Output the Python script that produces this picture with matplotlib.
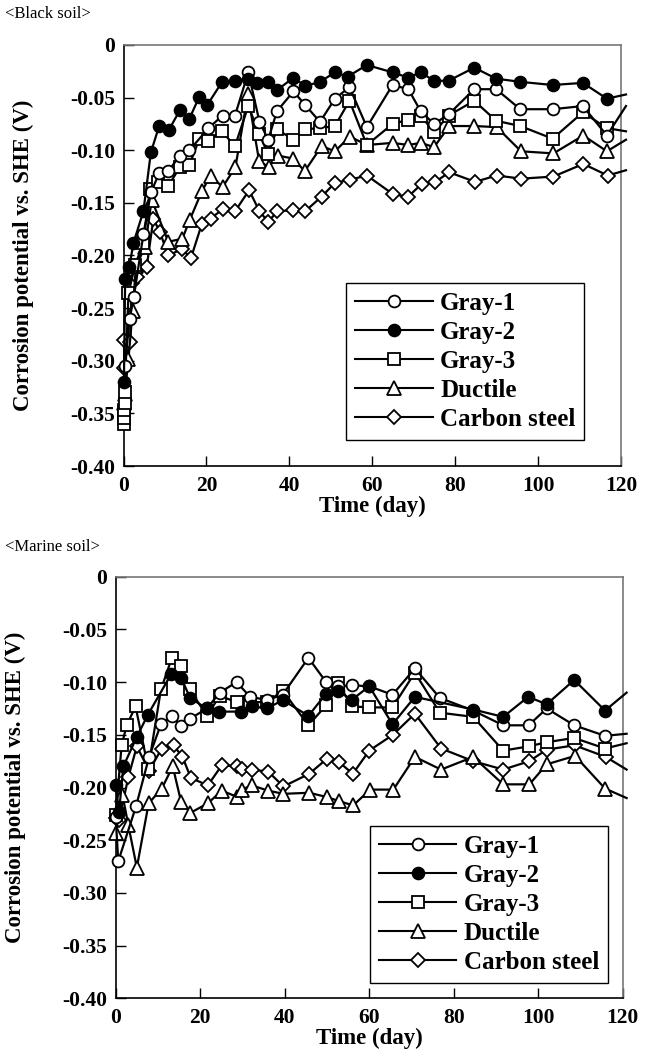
import matplotlib
matplotlib.use("Agg")
import matplotlib.pyplot as plt
from matplotlib.lines import Line2D

plt.rcParams['font.family'] = ['Liberation Serif', 'DejaVu Serif']

# ---------------- Black soil (top panel) ----------------
# last point of each series lies just beyond 120 days (line continues, no marker)
bs_g1_day = [0.3, 1.5, 2.5, 4.8, 6.6, 8.6, 10.8, 13.6, 15.9, 20.5, 23.9, 26.9, 30.1, 32.8, 34.9, 37.0,
             41.0, 43.8, 47.4, 51.0, 54.5, 58.7, 64.9, 68.7, 71.7, 74.9, 78.4, 84.6, 89.9, 95.7,
             103.5, 110.8, 116.6, 121.2]
bs_g1_val = [-0.305, -0.260, -0.239, -0.180, -0.140, -0.122, -0.120, -0.105, -0.100, -0.079, -0.067,
             -0.067, -0.026, -0.073, -0.090, -0.063, -0.044, -0.057, -0.073, -0.051, -0.040, -0.078,
             -0.038, -0.042, -0.063, -0.075, -0.066, -0.042, -0.042, -0.061, -0.061, -0.058, -0.086,
             -0.058]

bs_g2_day = [0.1, 0.4, 1.4, 2.4, 4.8, 6.6, 8.6, 10.9, 13.6, 15.9, 18.3, 20.2, 23.8, 26.9, 30.1, 32.1,
             34.9, 37.0, 41.0, 43.8, 47.4, 51.0, 54.1, 58.7, 64.9, 68.7, 71.7, 74.9, 78.4, 84.6,
             89.9, 95.7, 103.5, 110.8, 116.6, 121.2]
bs_g2_val = [-0.320, -0.222, -0.211, -0.188, -0.158, -0.102, -0.077, -0.081, -0.062, -0.070, -0.049,
             -0.057, -0.035, -0.034, -0.032, -0.036, -0.035, -0.043, -0.031, -0.039, -0.035, -0.026,
             -0.030, -0.019, -0.026, -0.031, -0.026, -0.034, -0.034, -0.0215, -0.032, -0.035,
             -0.038, -0.036, -0.051, -0.047]

bs_g3_day = [0.1, 0.15, 0.2, 0.25, 0.3, 1.2, 2.8, 4.8, 6.4, 8.4, 10.8, 13.6, 15.9, 18.3, 20.5, 23.7,
             26.9, 30.1, 32.8, 34.9, 37.0, 41.0, 43.8, 47.4, 51.0, 54.5, 58.7, 64.9, 68.7, 71.7,
             74.9, 78.4, 84.6, 89.9, 95.7, 103.5, 110.8, 116.6, 121.2]
bs_g3_val = [-0.360, -0.354, -0.347, -0.340, -0.330, -0.236, -0.209, -0.188, -0.137, -0.130, -0.134,
             -0.116, -0.114, -0.089, -0.091, -0.082, -0.096, -0.058, -0.085, -0.104, -0.080, -0.090,
             -0.080, -0.079, -0.077, -0.053, -0.095, -0.075, -0.071, -0.067, -0.083, -0.067, -0.053,
             -0.072, -0.077, -0.089, -0.064, -0.079, -0.082]

bs_du_day = [0.1, 0.3, 1.2, 2.2, 3.0, 5.2, 6.8, 10.8, 14.2, 16.0, 18.9, 21.0, 23.9, 27.0, 30.0, 32.7,
             35.0, 37.2, 41.0, 43.7, 47.8, 51.0, 54.6, 58.7, 64.9, 68.7, 71.7, 74.9, 78.6, 84.6,
             90.0, 95.9, 103.7, 110.9, 116.6, 121.2]
bs_du_val = [-0.340, -0.332, -0.298, -0.253, -0.210, -0.192, -0.147, -0.187, -0.184, -0.166, -0.139,
             -0.124, -0.135, -0.116, -0.047, -0.110, -0.116, -0.105, -0.108, -0.120, -0.096, -0.101,
             -0.087, -0.095, -0.093, -0.095, -0.093, -0.097, -0.077, -0.077, -0.078, -0.101, -0.103,
             -0.086, -0.101, -0.090]

bs_cs_day = [0.1, 0.2, 1.6, 2.0, 3.2, 5.6, 7.2, 8.8, 10.8, 14.0, 16.3, 18.9, 21.0, 23.9, 26.9, 30.3,
             32.8, 34.9, 37.1, 41.0, 43.8, 47.8, 51.0, 54.6, 58.7, 65.1, 68.7, 71.9, 75.2, 78.6,
             84.8, 90.0, 95.9, 103.7, 110.9, 116.8, 121.2]
bs_cs_val = [-0.280, -0.307, -0.282, -0.226, -0.220, -0.211, -0.165, -0.178, -0.200, -0.194, -0.202,
             -0.170, -0.165, -0.156, -0.158, -0.138, -0.158, -0.168, -0.158, -0.157, -0.158, -0.144,
             -0.131, -0.128, -0.124, -0.142, -0.144, -0.132, -0.130, -0.121, -0.130, -0.124, -0.127,
             -0.125, -0.113, -0.124, -0.119]

# ---------------- Marine soil (bottom panel) ----------------
ms_g1_day = [0.0, 0.6, 4.8, 7.9, 10.7, 13.4, 15.5, 17.5, 21.6, 24.6, 28.6, 31.8, 35.9, 39.5, 45.6,
             49.8, 52.7, 55.8, 60.0, 65.5, 70.8, 76.7, 84.6, 91.7, 97.7, 102.0, 108.5, 115.8, 120.9]
ms_g1_val = [-0.228, -0.270, -0.218, -0.171, -0.140, -0.132, -0.142, -0.135, -0.125, -0.110, -0.100,
             -0.114, -0.117, -0.112, -0.077, -0.100, -0.104, -0.103, -0.104, -0.112, -0.087, -0.115,
             -0.127, -0.141, -0.141, -0.125, -0.141, -0.151, -0.149]

ms_g2_day = [0.0, 0.8, 1.8, 5.0, 7.6, 13.2, 15.5, 17.6, 21.5, 24.5, 29.6, 32.2, 35.9, 39.5, 45.6,
             49.8, 52.7, 55.8, 60.0, 65.5, 70.8, 84.6, 91.7, 97.6, 102.0, 108.5, 115.8, 120.9]
ms_g2_val = [-0.198, -0.223, -0.180, -0.152, -0.131, -0.092, -0.096, -0.115, -0.125, -0.128, -0.128,
             -0.123, -0.125, -0.117, -0.132, -0.111, -0.108, -0.117, -0.104, -0.140, -0.114, -0.126,
             -0.133, -0.114, -0.121, -0.098, -0.127, -0.110]

ms_g3_day = [0.0, 1.4, 2.6, 4.7, 7.7, 10.7, 13.3, 15.5, 17.5, 21.6, 24.6, 28.6, 31.8, 35.9, 39.5,
             45.6, 49.8, 52.7, 55.8, 60.0, 65.5, 70.8, 76.7, 84.6, 91.7, 97.7, 102.0, 108.5, 115.8,
             120.9]
ms_g3_val = [-0.226, -0.160, -0.141, -0.123, -0.182, -0.107, -0.077, -0.085, -0.107, -0.132, -0.113,
             -0.119, -0.119, -0.119, -0.108, -0.141, -0.122, -0.101, -0.123, -0.124, -0.124, -0.091,
             -0.129, -0.133, -0.165, -0.161, -0.157, -0.153, -0.163, -0.158]

ms_du_day = [0.0, 1.6, 3.0, 5.0, 7.8, 10.9, 13.5, 15.5, 17.7, 21.8, 25.1, 28.8, 29.8, 32.2, 36.1,
             39.7, 45.8, 49.9, 52.9, 56.2, 60.2, 65.7, 70.8, 77.0, 84.6, 91.7, 97.9, 102.0, 108.7,
             115.8, 120.9]
ms_du_val = [-0.243, -0.207, -0.236, -0.276, -0.215, -0.201, -0.180, -0.214, -0.224, -0.215, -0.203,
             -0.209, -0.202, -0.198, -0.203, -0.206, -0.205, -0.209, -0.213, -0.217, -0.202, -0.202,
             -0.171, -0.183, -0.171, -0.197, -0.197, -0.178, -0.170, -0.201, -0.210]

ms_cs_day = [0.0, 0.8, 3.0, 5.0, 7.9, 10.9, 13.7, 15.8, 17.8, 21.8, 25.1, 28.6, 29.8, 32.2, 36.1,
             39.7, 45.8, 49.9, 52.9, 56.1, 60.0, 65.6, 70.8, 77.0, 84.6, 91.7, 97.9, 102.0, 108.6,
             116.0, 120.9]
ms_cs_val = [-0.229, -0.231, -0.190, -0.161, -0.184, -0.163, -0.160, -0.171, -0.191, -0.198, -0.179,
             -0.180, -0.182, -0.183, -0.185, -0.199, -0.187, -0.173, -0.176, -0.187, -0.165, -0.150,
             -0.130, -0.163, -0.175, -0.183, -0.175, -0.164, -0.160, -0.171, -0.183]

labels = ['Gray-1', 'Gray-2', 'Gray-3', 'Ductile', 'Carbon steel']
markers = ['o', 'o', 's', '^', 'D']
facecolors = ['white', 'black', 'white', 'white', 'white']
msizes = [8.5, 8.5, 8.5, 9.5, 7]

x_ticks = [0, 20, 40, 60, 80, 100, 120]
y_ticks = [0, -0.05, -0.10, -0.15, -0.20, -0.25, -0.30, -0.35, -0.40]
y_ticklabels = ['0', '-0.05', '-0.10', '-0.15', '-0.20', '-0.25', '-0.30', '-0.35', '-0.40']

fig = plt.figure(figsize=(6.49, 10.63), dpi=100)
W, H = 649, 1063


def make_axes(left, right, top, bottom):
    return fig.add_axes([left / W, 1 - bottom / H, (right - left) / W, (bottom - top) / H])


def style(ax, legend_anchor):
    ax.set_xlim(0, 120)
    ax.set_ylim(-0.40, 0)
    ax.set_xticks(x_ticks)
    ax.set_xticklabels([str(t) for t in x_ticks])
    ax.set_yticks(y_ticks)
    ax.set_yticklabels(y_ticklabels)
    ax.tick_params(direction='in', length=7, width=1.0, labelsize=15.5, pad=6)
    ax.tick_params(axis='x', pad=7)
    for lab in ax.get_xticklabels() + ax.get_yticklabels():
        lab.set_fontweight('bold')
    for s in ['left', 'bottom']:
        ax.spines[s].set_linewidth(1.2)
        ax.spines[s].set_color('black')
    for s in ['top', 'right']:
        ax.spines[s].set_linewidth(1.2)
        ax.spines[s].set_color('#777777')
    ax.set_xlabel('Time (day)', fontsize=16.5, fontweight='bold', labelpad=0)
    ax.set_ylabel('Corrosion potential vs. SHE (V)', fontsize=16.5, fontweight='bold', labelpad=26)
    handles = [Line2D([], [], color='black', lw=1.5, marker=m, markersize=ms,
                      markerfacecolor=fc, markeredgecolor='black', markeredgewidth=1.3)
               for m, fc, ms in zip(markers, facecolors, msizes)]
    leg = ax.legend(handles, labels, loc='lower right', bbox_to_anchor=legend_anchor,
                    frameon=True, fancybox=False, edgecolor='black', framealpha=1,
                    prop={'family': 'Liberation Serif', 'weight': 'bold', 'size': 18},
                    handlelength=3.1, handletextpad=0.3, labelspacing=0.24,
                    borderpad=0.35, borderaxespad=0, numpoints=1)
    leg.get_frame().set_linewidth(1.0)


def plot_series(ax, days, vals, i):
    n = len(days)
    ax.plot(days, vals, color='black', lw=1.6, marker=markers[i], markersize=msizes[i],
            markerfacecolor=facecolors[i], markeredgecolor='black', markeredgewidth=1.3,
            markevery=list(range(n - 1)), clip_on=False, zorder=3)


# top panel
ax1 = make_axes(123.5, 621, 45, 466)
top_series = [(bs_g1_day, bs_g1_val), (bs_g2_day, bs_g2_val), (bs_g3_day, bs_g3_val),
              (bs_du_day, bs_du_val), (bs_cs_day, bs_cs_val)]
for i in [4, 3, 2, 0, 1]:
    plot_series(ax1, top_series[i][0], top_series[i][1], i)
style(ax1, (0.926, 0.062))

# bottom panel
ax2 = make_axes(115.7, 622.8, 576.7, 998.3)
bot_series = [(ms_g1_day, ms_g1_val), (ms_g2_day, ms_g2_val), (ms_g3_day, ms_g3_val),
              (ms_du_day, ms_du_val), (ms_cs_day, ms_cs_val)]
for i in [4, 3, 2, 0, 1]:
    plot_series(ax2, bot_series[i][0], bot_series[i][1], i)
style(ax2, (0.971, 0.037))

fig.text(5 / W, 1 - 14 / H, '<Black soil>', fontsize=12, va='center', ha='left')
fig.text(5 / W, 1 - 547 / H, '<Marine soil>', fontsize=12, va='center', ha='left')

fig.savefig('out.png', dpi=100)
